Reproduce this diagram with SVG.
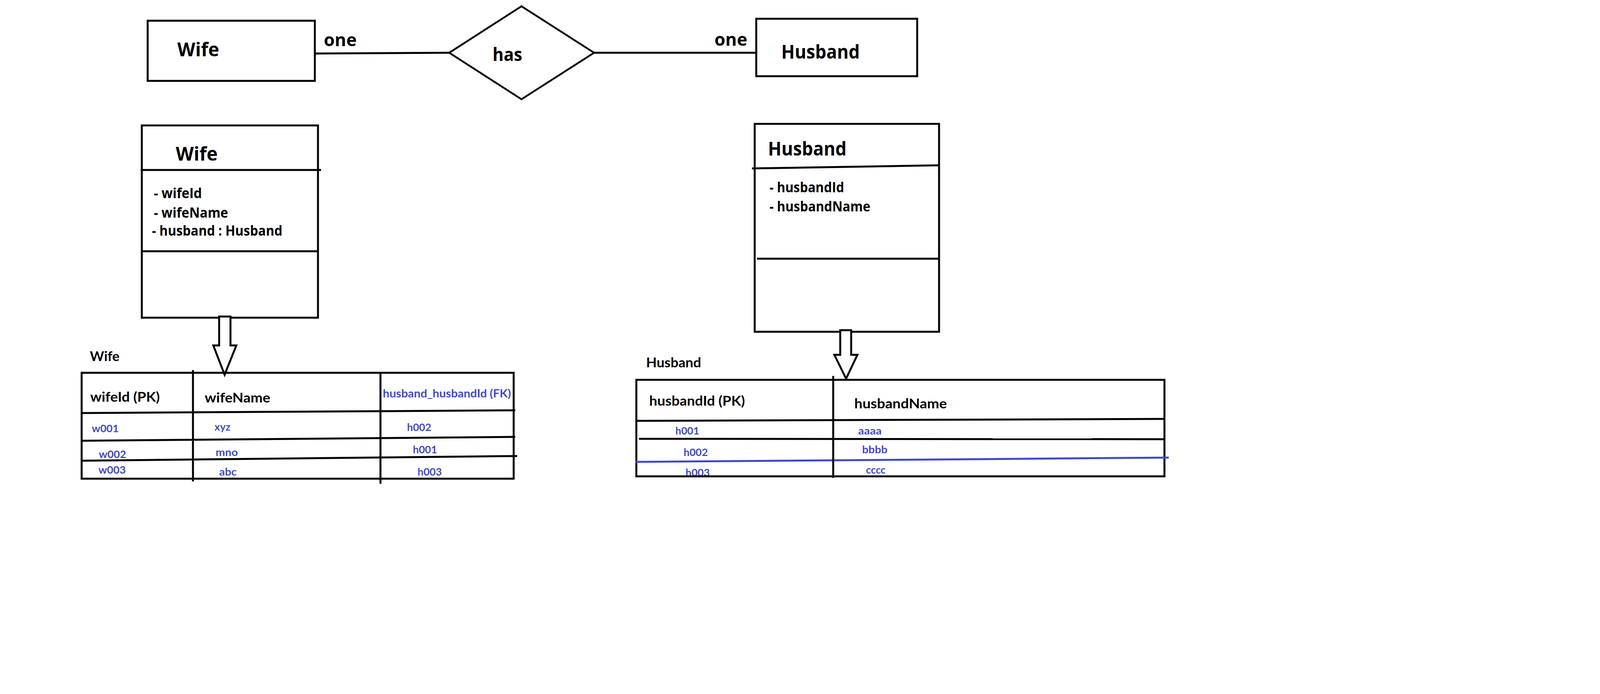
<svg xmlns="http://www.w3.org/2000/svg" width="4398" height="1776" viewBox="0 0 4398 1776">
<style>
.ln{stroke:#000;stroke-width:5;fill:none;stroke-linecap:butt}
.box{stroke:#000;stroke-width:5;fill:#fff}
.dia{stroke:#000;stroke-width:4.5;fill:#fff}
.t{font-family:"Open Sans","Noto Sans","DejaVu Sans",sans-serif;font-weight:bold;fill:#000}
.tb{font-family:"Lato","Open Sans","DejaVu Sans",sans-serif;font-weight:bold;fill:#000}
.bl{font-family:"Lato","Open Sans","DejaVu Sans",sans-serif;font-weight:bold;fill:#3f48cc;font-size:26px}
.arr{stroke:#000;stroke-width:5;fill:#fff;stroke-linejoin:miter}
</style>
<rect width="4398" height="1776" fill="#fff"/>

<g id="connectors">
  <line class="ln" x1="798" y1="137" x2="1150" y2="135"/>
  <line class="ln" x1="1521" y1="135" x2="1948" y2="135"/>
</g>

<g id="er-wife">
  <rect class="box" x="378" y="53" width="428" height="154"/>
  <text class="t" x="454" y="144" font-size="48" textLength="107" lengthAdjust="spacingAndGlyphs">Wife</text>
</g>
<g id="er-has">
  <polygon class="dia" points="1150,135 1335,16 1521,135 1335,254"/>
  <text class="t" x="1261" y="156" font-size="46" textLength="76" lengthAdjust="spacingAndGlyphs">has</text>
</g>
<g id="er-husband">
  <rect class="box" x="1936" y="48" width="412" height="147"/>
  <text class="t" x="2000" y="150" font-size="48" textLength="201" lengthAdjust="spacingAndGlyphs">Husband</text>
</g>
<g id="er-labels">
  <text class="t" x="829" y="118" font-size="44" textLength="84" lengthAdjust="spacingAndGlyphs">one</text>
  <text class="t" x="1829" y="117" font-size="44" textLength="84" lengthAdjust="spacingAndGlyphs">one</text>
</g>

<g id="uml-wife">
  <rect class="box" x="363" y="321" width="451" height="492"/>
  <line class="ln" x1="360" y1="435" x2="822" y2="435"/>
  <line class="ln" x1="363" y1="643" x2="814" y2="643"/>
  <text class="t" x="450" y="411" font-size="48" textLength="107" lengthAdjust="spacingAndGlyphs">Wife</text>
  <text class="t" x="394" y="507" font-size="36" textLength="123" lengthAdjust="spacingAndGlyphs">- wifeId</text>
  <text class="t" x="394" y="557" font-size="36" textLength="190" lengthAdjust="spacingAndGlyphs">- wifeName</text>
  <text class="t" x="389" y="603" font-size="36" textLength="334" lengthAdjust="spacingAndGlyphs">- husband : Husband</text>
</g>

<g id="uml-husband">
  <rect class="box" x="1932" y="317" width="472" height="532"/>
  <line class="ln" x1="1925" y1="431" x2="2404" y2="423"/>
  <line class="ln" x1="1938" y1="662" x2="2404" y2="662"/>
  <text class="t" x="1966" y="398" font-size="48" textLength="201" lengthAdjust="spacingAndGlyphs">Husband</text>
  <text class="t" x="1970" y="492" font-size="36" textLength="191" lengthAdjust="spacingAndGlyphs">- husbandId</text>
  <text class="t" x="1970" y="541" font-size="36" textLength="258" lengthAdjust="spacingAndGlyphs">- husbandName</text>
</g>

<g id="arrows">
  <polygon class="arr" points="561,810 561,884 546,884 575,959 605,884 590,884 590,810"/>
  <polygon class="arr" points="2151,845 2151,908 2136,908 2166,969 2195,908 2179,908 2179,845"/>
</g>

<g id="table-wife">
  <text class="tb" x="230" y="924" font-size="34" textLength="76" lengthAdjust="spacingAndGlyphs">Wife</text>
  <text class="tb" x="231" y="1028" font-size="34" textLength="178" lengthAdjust="spacingAndGlyphs">wifeId (PK)</text>
  <text class="tb" x="524" y="1030" font-size="34" textLength="168" lengthAdjust="spacingAndGlyphs">wifeName</text>
  <text class="bl" x="980" y="1017" font-size="28" style="font-size:28px" textLength="328" lengthAdjust="spacingAndGlyphs">husband_husbandId (FK)</text>
  <text class="bl" x="235" y="1106" textLength="69" lengthAdjust="spacingAndGlyphs">w001</text>
  <text class="bl" x="549" y="1102" textLength="41" lengthAdjust="spacingAndGlyphs">xyz</text>
  <text class="bl" x="1042" y="1103" textLength="62" lengthAdjust="spacingAndGlyphs">h002</text>
  <text class="bl" x="253" y="1172" textLength="70" lengthAdjust="spacingAndGlyphs">w002</text>
  <text class="bl" x="552" y="1167" textLength="57" lengthAdjust="spacingAndGlyphs">mno</text>
  <text class="bl" x="1057" y="1160" textLength="62" lengthAdjust="spacingAndGlyphs">h001</text>
  <text class="bl" x="252" y="1212" textLength="70" lengthAdjust="spacingAndGlyphs">w003</text>
  <text class="bl" x="561" y="1217" textLength="45" lengthAdjust="spacingAndGlyphs">abc</text>
  <text class="bl" x="1069" y="1217" textLength="62" lengthAdjust="spacingAndGlyphs">h003</text>
  <rect class="ln" x="209" y="954" width="1106" height="271"/>
  <line class="ln" x1="209" y1="1057" x2="1319" y2="1050"/>
  <line class="ln" x1="207" y1="1128" x2="1319" y2="1118"/>
  <line class="ln" x1="209" y1="1179" x2="1324" y2="1167"/>
  <line class="ln" x1="494" y1="947" x2="494" y2="1232"/>
  <line class="ln" x1="974" y1="956" x2="974" y2="1238"/>
</g>

<g id="table-husband">
  <text class="tb" x="1654" y="940" font-size="34" textLength="141" lengthAdjust="spacingAndGlyphs">Husband</text>
  <text class="tb" x="1662" y="1038" font-size="34" textLength="245" lengthAdjust="spacingAndGlyphs">husbandId (PK)</text>
  <text class="tb" x="2187" y="1045" font-size="34" textLength="237" lengthAdjust="spacingAndGlyphs">husbandName</text>
  <text class="bl" x="1729" y="1112" textLength="61" lengthAdjust="spacingAndGlyphs">h001</text>
  <text class="bl" x="2197" y="1112" textLength="60" lengthAdjust="spacingAndGlyphs">aaaa</text>
  <text class="bl" x="1750" y="1167" textLength="62" lengthAdjust="spacingAndGlyphs">h002</text>
  <text class="bl" x="2207" y="1160" textLength="65" lengthAdjust="spacingAndGlyphs">bbbb</text>
  <text class="bl" x="1755" y="1219" textLength="62" lengthAdjust="spacingAndGlyphs">h003</text>
  <text class="bl" x="2217" y="1212" textLength="50" lengthAdjust="spacingAndGlyphs">cccc</text>
  <rect class="ln" x="1629" y="972" width="1352" height="247"/>
  <line class="ln" x1="1629" y1="1077" x2="2983" y2="1072"/>
  <line class="ln" x1="1636" y1="1123" x2="2981" y2="1124"/>
  <line x1="1627" y1="1182" x2="2992" y2="1171" stroke="#3f48cc" stroke-width="5"/>
  <line class="ln" x1="2133" y1="962" x2="2133" y2="1223"/>
</g>
</svg>
